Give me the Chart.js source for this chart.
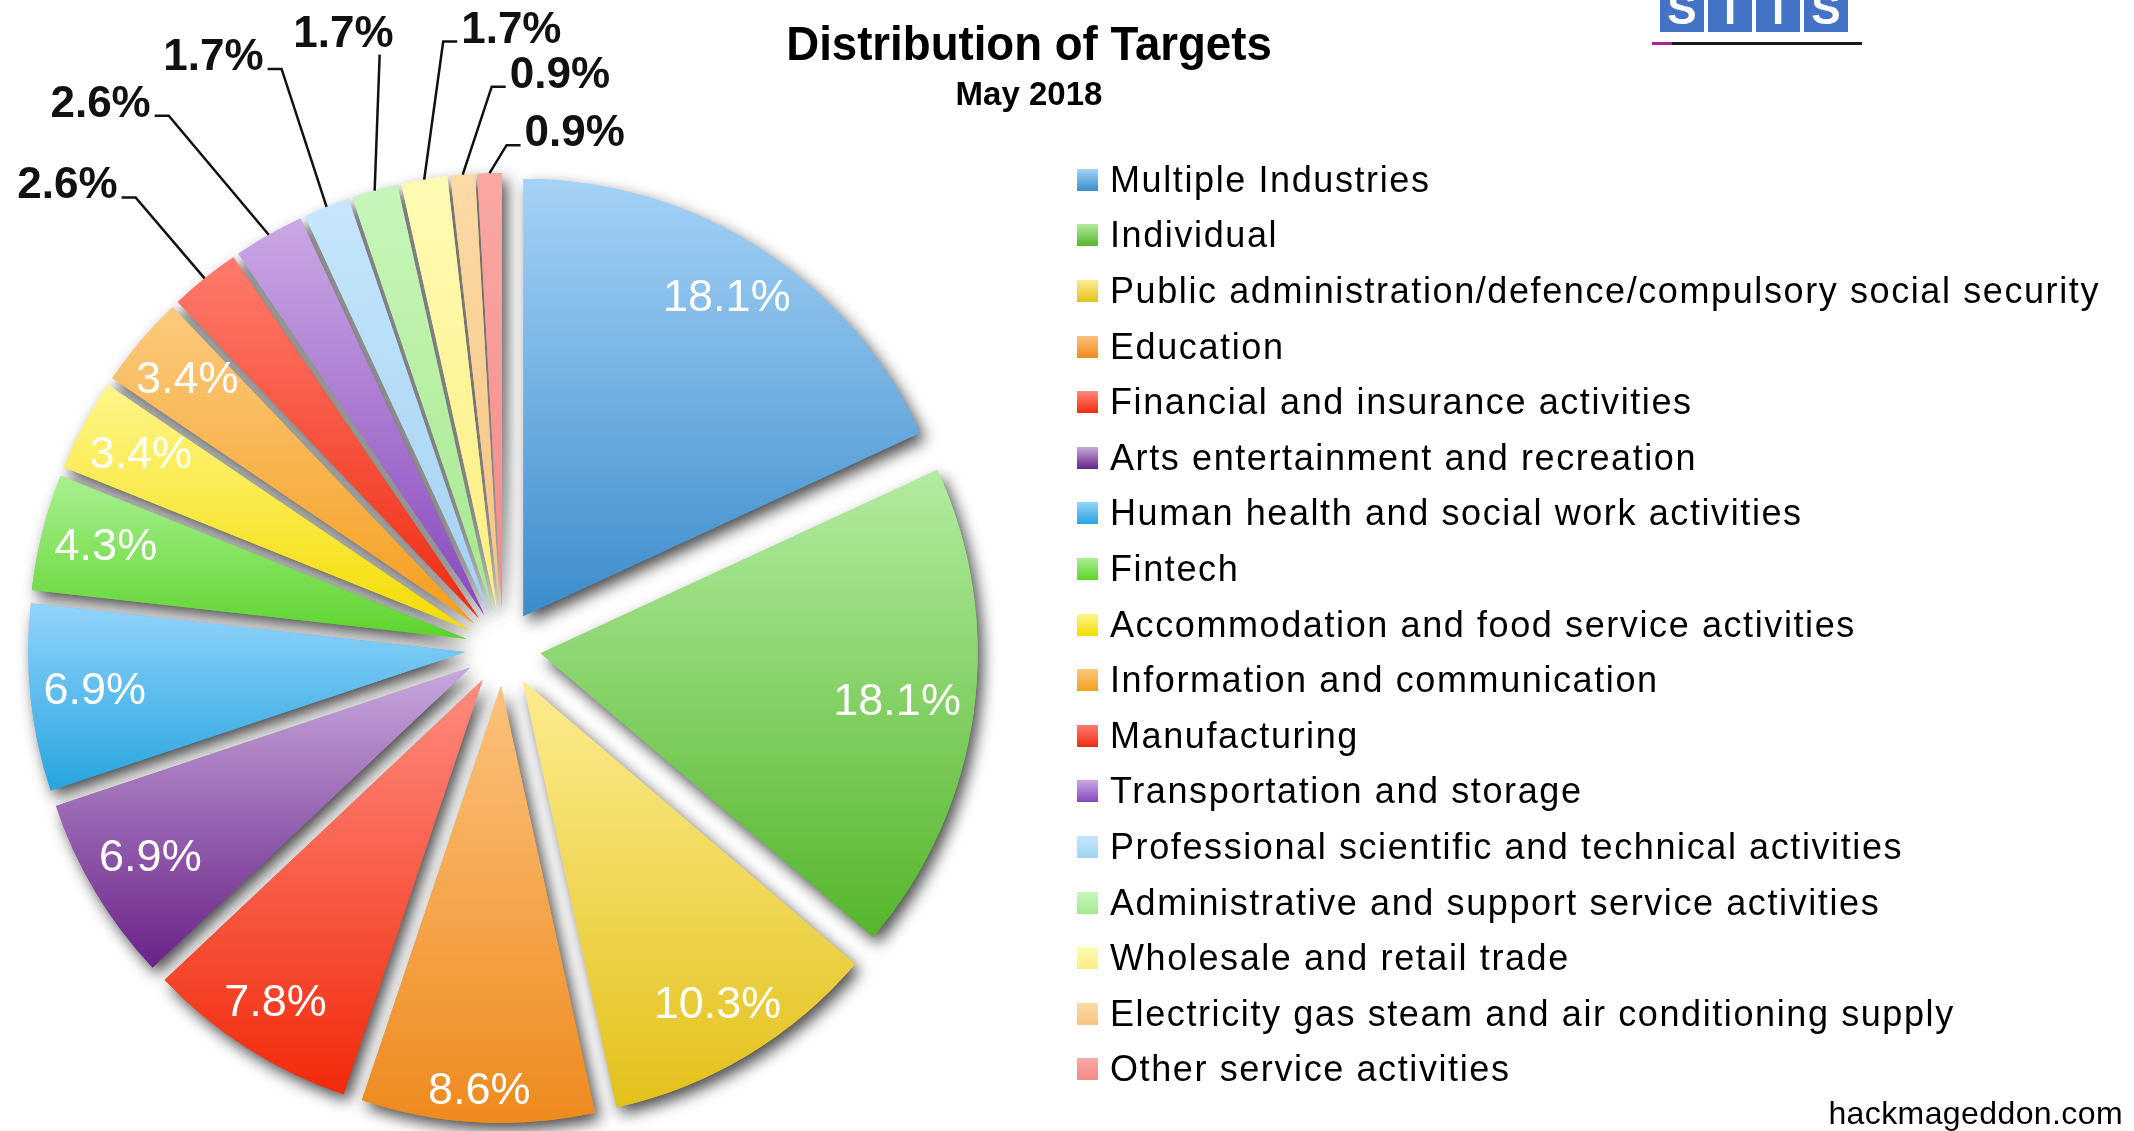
<!DOCTYPE html>
<html>
<head>
<meta charset="utf-8">
<title>Distribution of Targets</title>
<script src="https://cdn.jsdelivr.net/npm/chart.js@4.4.1/dist/chart.umd.min.js"></script>
<style>
  html, body { margin: 0; padding: 0; background: #fff; }
  body { position: relative; width: 2134px; height: 1131px; overflow: hidden; font-family: 'Liberation Sans', Arial, sans-serif; color: #000; }
  .chart-wrap { position: absolute; left: 0; top: 0; width: 2134px; height: 1131px; }
  .heading { position: absolute; left: 729px; width: 600px; text-align: center; font-weight: bold; line-height: 1; color: #000; white-space: nowrap; }
  .heading.main { top: 20px; font-size: 48px; transform: scaleX(0.95); }
  .heading.sub { top: 77px; font-size: 33px; }
  .legend { position: absolute; left: 1077px; top: 152px; margin: 0; padding: 0; list-style: none; }
  .legend li { height: 55.6px; display: flex; align-items: center; }
  .legend .box { width: 21px; height: 22px; margin-right: 12px; flex: none; }
  .legend .text { font-size: 36px; letter-spacing: 1.6px; line-height: 1; white-space: nowrap; }
  .credit { position: absolute; right: 11px; top: 1097px; font-size: 32px; letter-spacing: 0.4px; line-height: 1; }
  .logo { position: absolute; left: 1660px; top: 0; height: 32px; overflow: hidden; display: flex; gap: 4px; }
  .logo span { width: 44px; height: 46px; margin-top: -14px; background: #4472c4; color: #fff; font-weight: bold; font-size: 44px; line-height: 46px; text-align: center; }
  .logo-rule { position: absolute; left: 1652px; top: 42px; width: 210px; height: 3px; background: linear-gradient(to right, #b0209a 0 20px, #1a1a1a 20px); }
</style>
</head>
<body>
<div class="chart-wrap"><canvas id="targets"></canvas></div>
<div class="heading main">Distribution of Targets</div>
<div class="heading sub">May 2018</div>
<div class="logo"><span>S</span><span>I</span><span>I</span><span>S</span></div>
<div class="logo-rule"></div>
<ul class="legend" id="legend"></ul>
<div class="credit">hackmageddon.com</div>
<script>
const categories = [
  'Multiple Industries',
  'Individual',
  'Public administration/defence/compulsory social security',
  'Education',
  'Financial and insurance activities',
  'Arts entertainment and recreation',
  'Human health and social work activities',
  'Fintech',
  'Accommodation and food service activities',
  'Information and communication',
  'Manufacturing',
  'Transportation and storage',
  'Professional scientific and technical activities',
  'Administrative and support service activities',
  'Wholesale and retail trade',
  'Electricity gas steam and air conditioning supply',
  'Other service activities',
];
const shares = [18.1, 18.1, 10.3, 8.6, 7.8, 6.9, 6.9, 4.3, 3.4, 3.4, 2.6, 2.6, 1.7, 1.7, 1.7, 0.9, 0.9];

const topColors = [
  '#a5d2f6', '#b2eca0', '#fdec90', '#fcc27c', '#fe8b80', '#c7a8dc', '#92d4fc', '#aaf090', '#fef68c',
  '#fcca7e', '#ff7b6c', '#caa8e4', '#c6e6fc', '#c8f6ba', '#fffbb4', '#fddaa6', '#faa8a4',
];
const bottomColors = [
  '#3b8ccc', '#55b52a', '#e3c11a', '#ee8a1e', '#f22a0a', '#6a2288', '#26a4de', '#5cd42c', '#f4dc00',
  '#f49e1e', '#ef2c12', '#8848be', '#a2d2f2', '#a6e88e', '#fbee80', '#f6c482', '#f28a86',
];

// thin slices get their label outside; elbow of the leader line relative to the slice edge
const calloutOffsets = [
  null, null, null, null, null, null, null, null, null, null,
  [-69, -81], [-100, -119], [-45, -138], [5, -136], [19, -138], [29, -88], [17, -28],
];

const RADIUS = 437;
const EXPLODE = 38;
const INSIDE_REACH = 0.973;
const INSIDE_FONT = '45px "Liberation Sans", Arial, sans-serif';
const OUTSIDE_FONT = 'bold 44px "Liberation Sans", Arial, sans-serif';

const verticalExtent = (arc) => {
  const { x, y, startAngle, endAngle, outerRadius } = arc;
  const ys = [y, y + Math.sin(startAngle) * outerRadius, y + Math.sin(endAngle) * outerRadius];
  const covers = (a) => [a, a + 2 * Math.PI, a - 2 * Math.PI].some((v) => v >= startAngle && v <= endAngle);
  if (covers(-Math.PI / 2)) ys.push(y - outerRadius);
  if (covers(Math.PI / 2)) ys.push(y + outerRadius);
  return [Math.min(...ys), Math.max(...ys)];
};

const explodeSlices = {
  id: 'explodeSlices',
  afterDatasetUpdate(chart, { meta }) {
    meta.data.forEach((arc, i) => {
      const mid = (arc.startAngle + arc.endAngle) / 2;
      arc.x += Math.cos(mid) * EXPLODE;
      arc.y += Math.sin(mid) * EXPLODE;
      const [top, bottom] = verticalExtent(arc);
      const fill = chart.ctx.createLinearGradient(0, top, 0, bottom);
      fill.addColorStop(0, topColors[i]);
      fill.addColorStop(1, bottomColors[i]);
      arc.options = { ...arc.options, backgroundColor: fill };
    });
  },
  beforeDatasetsDraw(chart) {
    const { ctx } = chart;
    ctx.save();
    ctx.shadowColor = 'rgba(0, 0, 0, 0.7)';
    ctx.shadowBlur = 15;
    ctx.shadowOffsetX = 5;
    ctx.shadowOffsetY = 7;
    chart.getDatasetMeta(0).data.forEach((arc) => arc.draw(ctx));
    ctx.restore();
  },
};

const sliceLabels = {
  id: 'sliceLabels',
  afterDatasetsDraw(chart) {
    const { ctx } = chart;
    const values = chart.data.datasets[0].data;
    ctx.save();
    chart.getDatasetMeta(0).data.forEach((arc, i) => {
      const text = `${values[i].toFixed(1)}%`;
      const mid = (arc.startAngle + arc.endAngle) / 2;
      const cos = Math.cos(mid);
      const sin = Math.sin(mid);
      const offset = calloutOffsets[i];

      if (!offset) {
        // keep the text box inside the slice: pull it in by its half extent along the radius
        ctx.font = INSIDE_FONT;
        const halfW = ctx.measureText(text).width / 2;
        const halfH = 16;
        const dist = arc.outerRadius * INSIDE_REACH - (Math.abs(cos) * halfW + Math.abs(sin) * halfH);
        ctx.fillStyle = '#fff';
        ctx.textAlign = 'center';
        ctx.textBaseline = 'middle';
        ctx.fillText(text, arc.x + cos * dist, arc.y + sin * dist);
        return;
      }

      const ax = arc.x + cos * arc.outerRadius;
      const ay = arc.y + sin * arc.outerRadius;
      const ex = ax + offset[0];
      const ey = ay + offset[1];
      const side = Math.abs(offset[0]) < 10 ? 0 : Math.sign(offset[0]);

      ctx.strokeStyle = '#111';
      ctx.lineWidth = 2.5;
      ctx.beginPath();
      ctx.moveTo(ex + side * 14, ey);
      ctx.lineTo(ex, ey);
      ctx.lineTo(ax, ay);
      ctx.stroke();

      ctx.font = OUTSIDE_FONT;
      ctx.fillStyle = '#111';
      ctx.textBaseline = 'alphabetic';
      if (side === 0) {
        ctx.textAlign = 'right';
        ctx.fillText(text, ex + 14, ey - 8);
      } else {
        ctx.textAlign = side < 0 ? 'right' : 'left';
        ctx.fillText(text, ex + side * 18, ey + 1);
      }
    });
    ctx.restore();
  },
};

const htmlLegend = {
  id: 'htmlLegend',
  afterUpdate(chart) {
    const list = document.getElementById('legend');
    list.innerHTML = '';
    chart.data.labels.forEach((label, i) => {
      const li = document.createElement('li');
      const box = document.createElement('span');
      box.className = 'box';
      box.style.background = `linear-gradient(${topColors[i]}, ${bottomColors[i]})`;
      const text = document.createElement('span');
      text.className = 'text';
      text.textContent = label;
      li.append(box, text);
      list.append(li);
    });
  },
};

new Chart(document.getElementById('targets'), {
  type: 'pie',
  data: {
    labels: categories,
    datasets: [
      {
        data: shares,
        backgroundColor: topColors,
        borderWidth: 0,
        radius: RADIUS,
      },
    ],
  },
  options: {
    responsive: true,
    maintainAspectRatio: false,
    animation: false,
    events: [],
    layout: {
      padding: { top: 165, right: 1128, bottom: 0, left: 0 },
    },
    plugins: {
      legend: { display: false },
      title: { display: false },
      tooltip: { enabled: false },
    },
  },
  plugins: [explodeSlices, sliceLabels, htmlLegend],
});
</script>
</body>
</html>
